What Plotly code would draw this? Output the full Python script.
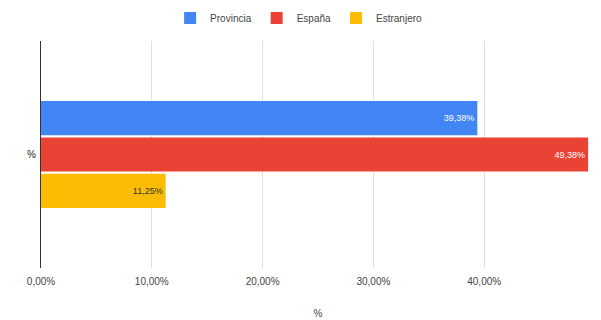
import plotly.graph_objects as go

categories = ["%"]
series_names = ["Provincia", "España", "Estranjero"]
series_values = [[0.3938], [0.4938], [0.1125]]
series_colors = ["#4285F4", "#EA4335", "#FBBC04"]
text_colors = ["#ffffff", "#ffffff", "#333333"]
tick_values = [0, 0.1, 0.2, 0.3, 0.4, 0.5]
tick_labels = ["0,00%", "10,00%", "20,00%", "30,00%", "40,00%", ""]

fig = go.Figure()
for name, vals, col, tc in zip(series_names, series_values, series_colors, text_colors):
    fig.add_trace(go.Bar(
        y=categories, x=vals, name=name, orientation="h",
        marker=dict(color=col, line=dict(width=0)),
        texttemplate="%{x:.2%}", textposition="inside", insidetextanchor="end",
        textfont=dict(color=tc, size=9, family="Liberation Sans, Arial"),
        constraintext="none",
    ))

fig.update_layout(
    width=593, height=312,
    separators=",.",
    barmode="group", bargap=0.52, bargroupgap=0.06,
    plot_bgcolor="white", paper_bgcolor="white",
    margin=dict(l=33, r=6, t=33, b=52),
    font=dict(family="Liberation Sans, Arial", size=10, color="#444444"),
    showlegend=True,
    legend=dict(orientation="h", x=0.465, xanchor="center", xref="paper",
                y=0.968, yanchor="middle", yref="container",
                font=dict(size=10, color="#444444"), itemwidth=30, traceorder="normal"),
    xaxis=dict(range=[0, 0.5], tickvals=tick_values, ticktext=tick_labels,
               showgrid=True, gridcolor="#e0e0e0", gridwidth=1, zeroline=False,
               showline=False, ticks="", tickfont=dict(size=10, color="#444444"),
               automargin=False, ticklabelstandoff=6,
               title=dict(text="%", font=dict(size=10, color="#444444"), standoff=23)),
    yaxis=dict(autorange="reversed", showline=True, linecolor="#333333", linewidth=1,
               ticks="", tickfont=dict(size=10, color="#222222"), showgrid=False,
               automargin=False, ticklabelstandoff=2),
)

fig.write_html("out.html")
